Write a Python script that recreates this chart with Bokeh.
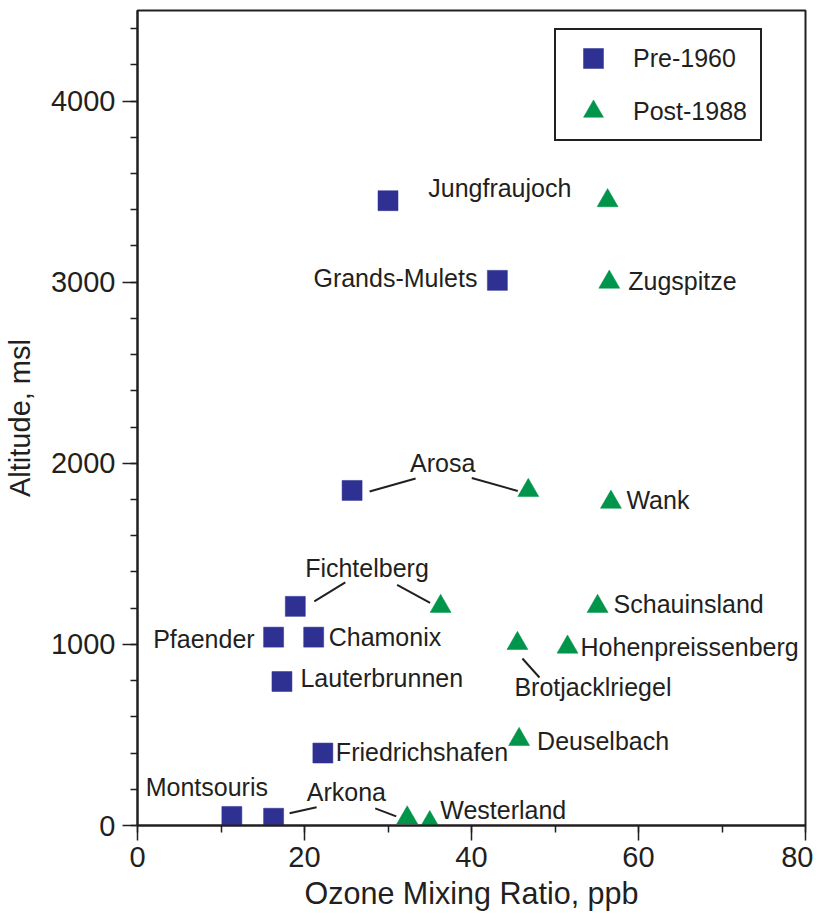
from bokeh.plotting import figure
from bokeh.models import Range1d, SingleIntervalTicker, Legend, LegendItem
from bokeh.core.properties import value
from bokeh.embed import file_html
from bokeh.resources import INLINE

# ---------------- data ----------------
pre_station = ["Jungfraujoch", "Grands-Mulets", "Arosa", "Fichtelberg", "Pfaender",
               "Chamonix", "Lauterbrunnen", "Friedrichshafen", "Montsouris", "Arkona"]
pre_ozone = [30.0, 43.1, 25.7, 18.9, 16.3, 21.1, 17.3, 22.2, 11.3, 16.3]
pre_alt = [3450, 3010, 1850, 1210, 1040, 1040, 795, 400, 50, 40]

post_station = ["Jungfraujoch", "Zugspitze", "Arosa", "Wank", "Fichtelberg", "Schauinsland",
                "Hohenpreissenberg", "Brotjacklriegel", "Deuselbach", "Arkona", "Westerland"]
post_ozone = [56.3, 56.5, 46.8, 56.7, 36.3, 55.1, 51.5, 45.5, 45.7, 32.3, 35.0]
post_alt = [3450, 3000, 1850, 1785, 1210, 1210, 985, 1005, 475, 42, 16]

series_names = ["Pre-1960", "Post-1988"]
x_title = "Ozone Mixing Ratio, ppb"
y_title = "Altitude, msl"

# ---------------- styling / layout ----------------
INK = "#231f20"
BLUE = "#2e3192"
GREEN = "#00954a"
FONT = "Liberation Sans"
FW, FH = 668, 815
X0, X1, Y0, Y1 = 0, 80, 0, 4500
SX = FW / (X1 - X0)
SY = FH / (Y1 - Y0)
LABEL_SIZE = 25

pts = {
    "pre": dict(zip(pre_station, zip(pre_ozone, pre_alt))),
    "post": dict(zip(post_station, zip(post_ozone, post_alt))),
}

p = figure(frame_width=FW, frame_height=FH,
           x_range=Range1d(X0, X1), y_range=Range1d(Y0, Y1),
           output_backend="svg", toolbar_location=None,
           min_border_left=135, min_border_top=10, min_border_right=8, min_border_bottom=60,
           background_fill_color="white", border_fill_color="white")
p.xgrid.visible = False
p.ygrid.visible = False
p.outline_line_color = INK
p.outline_line_width = 2

p.xaxis.ticker = SingleIntervalTicker(interval=20, num_minor_ticks=2)
p.yaxis.ticker = SingleIntervalTicker(interval=1000, num_minor_ticks=5)
for ax in (p.xaxis, p.yaxis):
    ax.axis_line_color = INK
    ax.axis_line_width = 2
    ax.major_tick_line_color = INK
    ax.major_tick_line_width = 1.5
    ax.minor_tick_line_color = INK
    ax.minor_tick_line_width = 1.5
    ax.major_tick_in = 0
    ax.major_tick_out = 15
    ax.minor_tick_in = 0
    ax.minor_tick_out = 7
    ax.major_label_text_font = FONT
    ax.major_label_text_font_size = "29px"
    ax.major_label_text_color = INK
    ax.axis_label_text_font = FONT
    ax.axis_label_text_font_style = "normal"
    ax.axis_label_text_color = INK
p.xaxis.axis_label = x_title
p.yaxis.axis_label = y_title
p.xaxis.axis_label_text_font_size = "30.5px"
p.yaxis.axis_label_text_font_size = "29px"
p.yaxis.major_label_standoff = 7
p.xaxis.major_label_standoff = 6
p.yaxis.axis_label_standoff = 12
p.xaxis.axis_label_standoff = 6

# ---------------- leader lines ----------------
leaders = [
    ("pre", "Arosa", 17.5, 1, 63.5, -12),
    ("post", "Arosa", -56.5, -12.5, -10.5, 0.5),
    ("pre", "Fichtelberg", 19, -5, 50, -24),
    ("post", "Fichtelberg", -43.5, -21.5, -10.5, -3.5),
    ("post", "Brotjacklriegel", 5, 15, 22, 34),
    ("pre", "Arkona", 16, -5, 43, -11),
    ("post", "Arkona", -32, -9.5, -11, -1.5),
]
lx0, ly0, lx1, ly1 = [], [], [], []
for s, name, dx0, dy0, dx1, dy1 in leaders:
    x, y = pts[s][name]
    lx0.append(x + dx0 / SX); ly0.append(y - dy0 / SY)
    lx1.append(x + dx1 / SX); ly1.append(y - dy1 / SY)
p.segment(x0=lx0, y0=ly0, x1=lx1, y1=ly1, line_color=INK, line_width=2)

# ---------------- markers ----------------
r_pre = p.scatter(pre_ozone, pre_alt, marker="square", size=20,
                  fill_color=BLUE, line_color=BLUE, line_width=0.5)
r_post = p.scatter(post_ozone, post_alt, marker="triangle", size=21,
                   fill_color=GREEN, line_color=GREEN, line_width=0.5)

# ---------------- station labels ----------------
labels = [
    ("Jungfraujoch", ["pre", "post"], 2, -12, "center"),
    ("Grands-Mulets", ["pre"], -20, -1, "right"),
    ("Zugspitze", ["post"], 19, 0, "left"),
    ("Arosa", ["pre", "post"], 2.5, -26.5, "center"),
    ("Wank", ["post"], 15.5, -1.5, "left"),
    ("Fichtelberg", ["pre", "post"], -1, -37, "center"),
    ("Pfaender", ["pre"], -19, 2.5, "right"),
    ("Chamonix", ["pre"], 15, 0.5, "left"),
    ("Lauterbrunnen", ["pre"], 18.5, -3, "left"),
    ("Friedrichshafen", ["pre"], 13, 0, "left"),
    ("Montsouris", ["pre"], -25, -28, "center"),
    ("Arkona", ["pre", "post"], 6, -25, "center"),
    ("Schauinsland", ["post"], 16, -1, "left"),
    ("Hohenpreissenberg", ["post"], 13, 1, "left"),
    ("Brotjacklriegel", ["post"], -3, 45, "left"),
    ("Deuselbach", ["post"], 18, 3, "left"),
    ("Westerland", ["post"], 10.5, -11.5, "left"),
]
groups = {}
for text, ss, dx, dy, align in labels:
    xs = [pts[s][text][0] for s in ss]
    ys = [pts[s][text][1] for s in ss]
    g = groups.setdefault(align, dict(x=[], y=[], text=[], xo=[], yo=[]))
    g["x"].append(sum(xs) / len(xs))
    g["y"].append(sum(ys) / len(ys))
    g["text"].append(text)
    g["xo"].append(dx)
    g["yo"].append(dy - 1)
for align, g in groups.items():
    p.text(x=g["x"], y=g["y"], text=g["text"], x_offset=g["xo"], y_offset=g["yo"],
           text_align=align, text_baseline="alphabetic",
           text_font=value(FONT), text_font_size=f"{LABEL_SIZE}px", text_color=INK)

# ---------------- legend ----------------
legend = Legend(items=[LegendItem(label=series_names[0], renderers=[r_pre]),
                       LegendItem(label=series_names[1], renderers=[r_post])],
                location=(417, 684), margin=0, padding=3, spacing=3,
                glyph_width=68, glyph_height=50, label_standoff=6, label_width=124,
                label_text_font=FONT, label_text_font_size="25px", label_text_color=INK,
                border_line_color=INK, border_line_width=2, border_line_alpha=1,
                background_fill_color="white", background_fill_alpha=1)
p.add_layout(legend)

open("out.html", "w").write(file_html(p, INLINE))
